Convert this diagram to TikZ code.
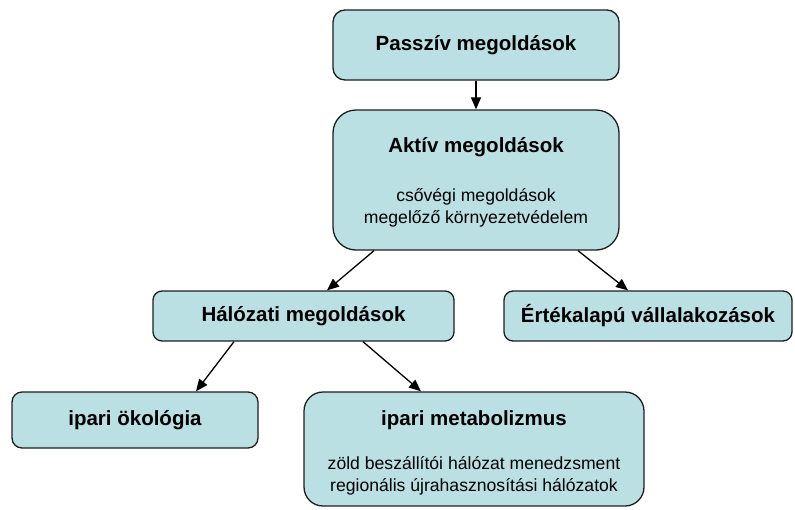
\documentclass[tikz,border=0pt]{standalone}
\usepackage{fontspec}
\setmainfont{Liberation Sans}
\usetikzlibrary{arrows.meta}
\definecolor{boxfill}{RGB}{186,224,227}
\definecolor{boxline}{RGB}{30,30,30}
\begin{document}
\begin{tikzpicture}[x=1pt,y=-1pt,
 box/.style={draw=boxline,fill=boxfill,line width=1.3pt,rectangle,inner sep=0pt},
 ttl/.style={font=\fontsize{20.5}{24}\selectfont\bfseries},
 sub/.style={font=\fontsize{17.6}{21.5}\selectfont,align=center},
 conn/.style={-{Triangle[length=12pt,width=10pt]},line width=1.3pt}]
\useasboundingbox (0,0) rectangle (795,509);
\node[box,rounded corners=12pt,minimum width=286pt,minimum height=70pt,ttl] (pass) at (476,45) {Passzív megoldások};
\node[box,rounded corners=23pt,minimum width=286pt,minimum height=140pt] (akt) at (476,180) {};
\node[ttl] (aktt) at (476,147) {Aktív megoldások};
\node[sub] (akts) at (476,208) {csővégi megoldások\\megelőző környezetvédelem};
\node[box,rounded corners=9pt,minimum width=301pt,minimum height=50pt,ttl] (hal) at (303.5,316) {Hálózati megoldások};
\node[box,rounded corners=9pt,minimum width=288pt,minimum height=50pt,ttl] (ert) at (648,316) {Értékalapú vállalakozások};
\node[box,rounded corners=10pt,minimum width=246pt,minimum height=56pt,ttl] (oko) at (135,420) {ipari ökológia};
\node[box,rounded corners=19pt,minimum width=340pt,minimum height=114pt] (met) at (474,449) {};
\node[ttl] (mett) at (474,420) {ipari metabolizmus};
\node[sub] (mets) at (474,476) {zöld beszállítói hálózat menedzsment\\regionális újrahasznosítási hálózatok};
\draw[conn] (pass.south) -- (akt.north);
\draw[conn] ([xshift=-102pt]akt.south) -- ([xshift=23.5pt]hal.north);
\draw[conn] ([xshift=102pt]akt.south) -- ([xshift=-20pt]ert.north);
\draw[conn] ([xshift=-69.5pt]hal.south) -- ([xshift=61pt]oko.north);
\draw[conn] ([xshift=59.5pt]hal.south) -- ([xshift=-53pt]met.north);
\end{tikzpicture}
\end{document}
